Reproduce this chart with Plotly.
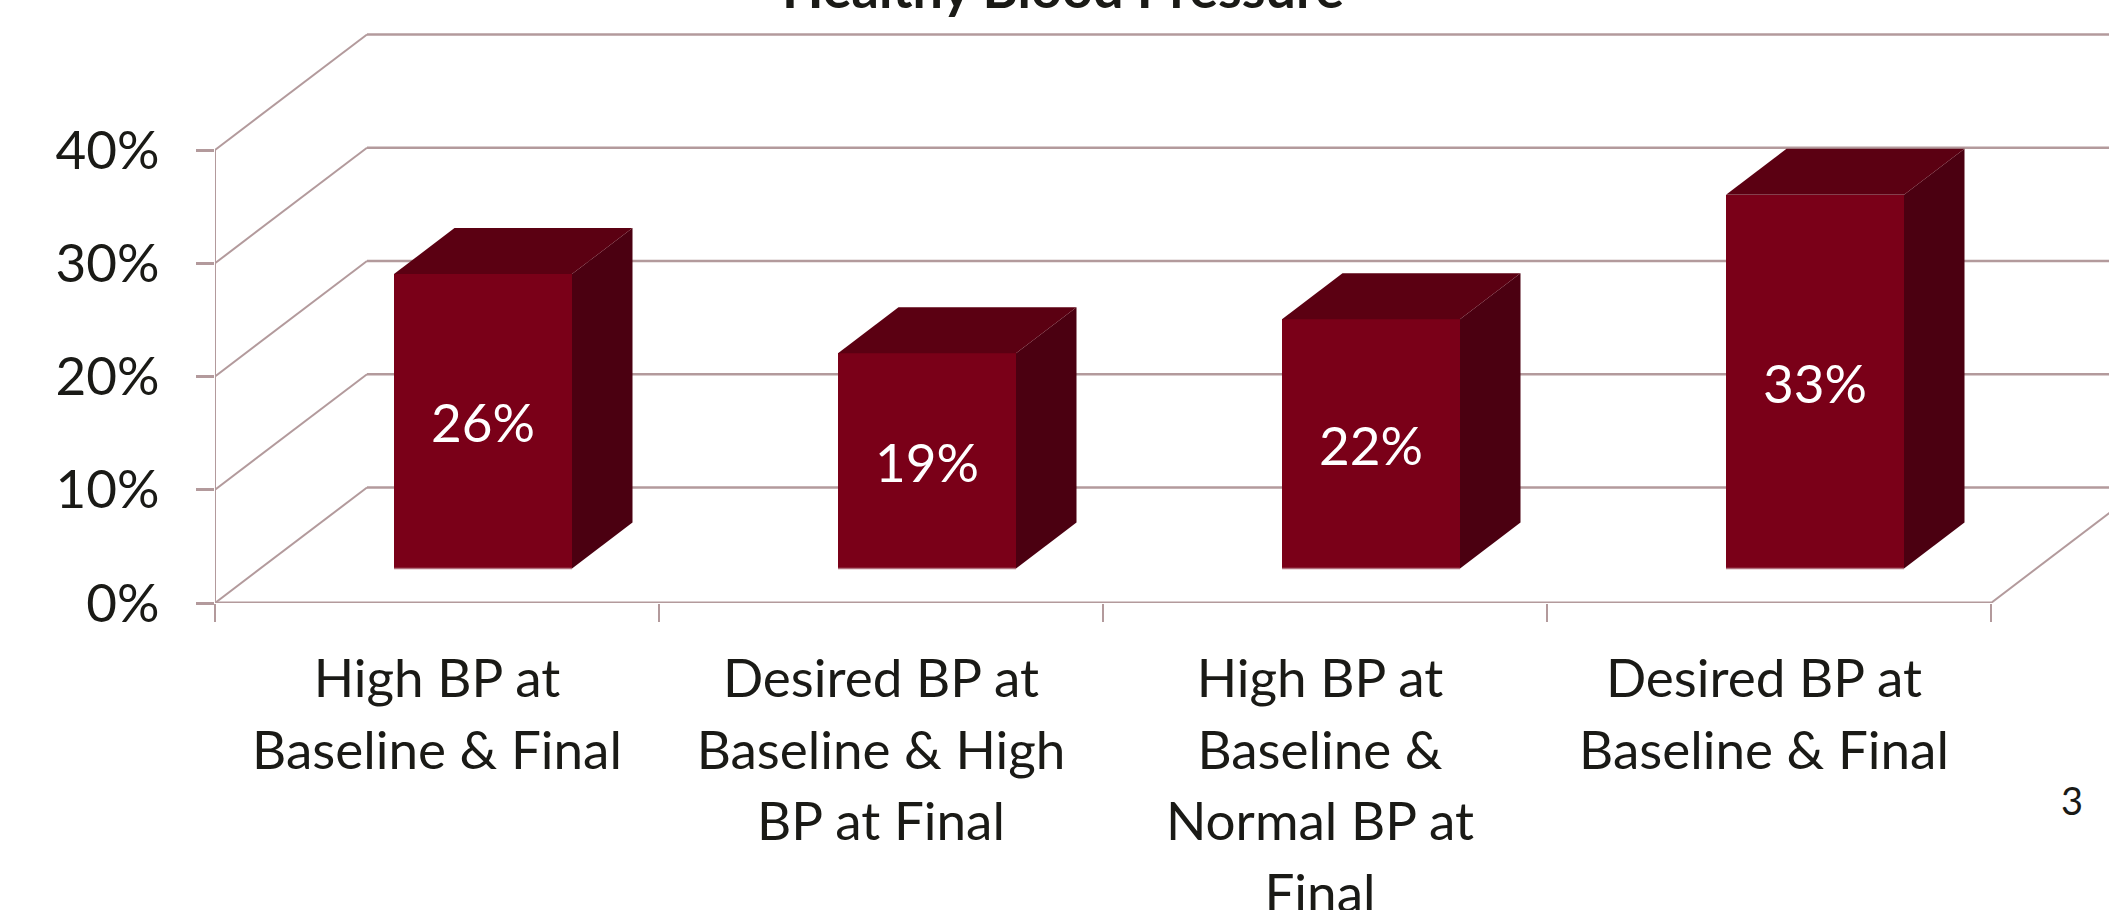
import plotly.graph_objects as go

# ---- data ----
categories = [
    ["High BP at", "Baseline & Final"],
    ["Desired BP at", "Baseline & High", "BP at Final"],
    ["High BP at", "Baseline &", "Normal BP at", "Final"],
    ["Desired BP at", "Baseline & Final"],
]
values = [26, 19, 22, 33]
value_labels = ["26%", "19%", "22%", "33%"]
y_ticks = [0, 10, 20, 30, 40]
y_tick_labels = ["0%", "10%", "20%", "30%", "40%"]
title_text = "Healthy Blood Pressure"
page_number = "3"

# ---- styling ----
W, H = 2109, 910
X0_PX, Y0_PX = 215, 603          # pixel location of the chart origin
PX_PER_CAT, PX_PER_PCT = 444.0, 11.325
WALL_DX = 152 / PX_PER_CAT       # depth of the floor, in axis units
WALL_DY = 115.5 / PX_PER_PCT
BAR_DX = 60.5 / PX_PER_CAT       # depth of a bar
BAR_DY = 46 / PX_PER_PCT
BAR_FLOOR = 34.5 / PX_PER_PCT    # bars stand mid-way across the floor
BAR_WIDTH = 178 / PX_PER_CAT
BAR_LEFT = (394 - X0_PX) / PX_PER_CAT
LABEL_NUDGE = [0, 0, -5 / PX_PER_CAT, -5 / PX_PER_CAT]
GRID = "#B39A9C"
FRONT, TOP, SIDE = "#7A0018", "#5B0012", "#4B0011"
TEXT = "#1A1A16"
FONT = "Lato"
SIZE = 53

centers = [i + 0.5 + d for i, d in enumerate(LABEL_NUDGE)]
lefts = [i + BAR_LEFT for i in range(len(values))]
rights = [l + BAR_WIDTH for l in lefts]
n = len(values)

fig = go.Figure()

# front faces
fig.add_trace(go.Bar(
    x=[l + BAR_WIDTH / 2 for l in lefts], y=values, base=BAR_FLOOR, width=BAR_WIDTH,
    marker=dict(color=FRONT, line_width=0),
    text=value_labels, textposition="inside", insidetextanchor="middle", textangle=0,
    constraintext="none", insidetextfont=dict(family=FONT, size=SIZE, color="white"),
    hoverinfo="skip", showlegend=False,
))

# side and top faces, and the light edge under each bar
for l, r, v in zip(lefts, rights, values):
    top = BAR_FLOOR + v
    fig.add_trace(go.Scatter(
        x=[r, r + BAR_DX, r + BAR_DX, r, r],
        y=[BAR_FLOOR, BAR_FLOOR + BAR_DY, top + BAR_DY, top, BAR_FLOOR],
        mode="lines", fill="toself", fillcolor=SIDE, line=dict(width=0),
        hoverinfo="skip", showlegend=False))
    fig.add_trace(go.Scatter(
        x=[l, r, r + BAR_DX, l + BAR_DX, l],
        y=[top, top, top + BAR_DY, top + BAR_DY, top],
        mode="lines", fill="toself", fillcolor=TOP, line=dict(width=0),
        hoverinfo="skip", showlegend=False))
    fig.add_trace(go.Scatter(
        x=[l, r], y=[BAR_FLOOR, BAR_FLOOR], mode="lines",
        line=dict(color="#B06F7C", width=1.5), hoverinfo="skip", showlegend=False))

# walls and grid, kept under the traces
shapes = []
def seg(x0, y0, x1, y1, w):
    shapes.append(dict(type="line", layer="below", xref="x", yref="y",
                       x0=x0, y0=y0, x1=x1, y1=y1, line=dict(color=GRID, width=w)))

seg(0, 0, 0, y_ticks[-1], 2)
seg(0, 0, n, 0, 3)
seg(n, 0, n + WALL_DX, WALL_DY, 2)
for t in y_ticks:
    seg(0, t, WALL_DX, t + WALL_DY, 2)
    seg(WALL_DX, t + WALL_DY, n + WALL_DX, t + WALL_DY, 2.5)

LINE_SIZE = 55  # sets the 72px line pitch of the category labels
tick_text = [
    "<br>".join(f'<span style="font-size:{SIZE}px">{p.replace("&", "&amp;")}</span>' for p in c)
    for c in categories
]

fig.update_layout(
    width=W, height=H, autosize=False,
    margin=dict(l=0, r=0, t=0, b=0),
    paper_bgcolor="white", plot_bgcolor="white",
    showlegend=False, bargap=0,
    shapes=shapes,
    xaxis=dict(
        domain=[X0_PX / W, 1], range=[0, (W - X0_PX) / PX_PER_CAT], automargin=False,
        tickmode="array", tickvals=centers, ticktext=tick_text,
        ticks="", tickangle=0, ticklabelstandoff=38,
        tickfont=dict(family=FONT, size=LINE_SIZE, color=TEXT),
        minor=dict(tickmode="array", tickvals=list(range(n + 1)), ticks="outside",
                   ticklen=18, tickwidth=2, tickcolor=GRID, showgrid=False),
        showgrid=False, zeroline=False, showline=False,
    ),
    yaxis=dict(
        domain=[(H - Y0_PX) / H, 1], range=[0, Y0_PX / PX_PER_PCT], automargin=False,
        tickmode="array", tickvals=y_ticks, ticktext=y_tick_labels,
        ticks="outside", ticklen=18, tickwidth=2.5, tickcolor=GRID, ticklabelstandoff=26,
        tickfont=dict(family=FONT, size=SIZE, color=TEXT),
        showgrid=False, zeroline=False, showline=False,
    ),
    annotations=[
        dict(text=f"<b>{title_text}</b>", xref="paper", yref="paper", x=1063 / W,
             y=1, yanchor="bottom", xanchor="center", yshift=-22, showarrow=False,
             font=dict(family=FONT, size=54, color=TEXT)),
        dict(text=page_number, xref="paper", yref="paper", x=2072 / W,
             y=1 - 800 / H, yanchor="middle", xanchor="center",
             showarrow=False, font=dict(family=FONT, size=38, color=TEXT)),
    ],
)

fig.write_html("out.html", config={"displayModeBar": False},
               post_script="document.body.style.margin='0';")
